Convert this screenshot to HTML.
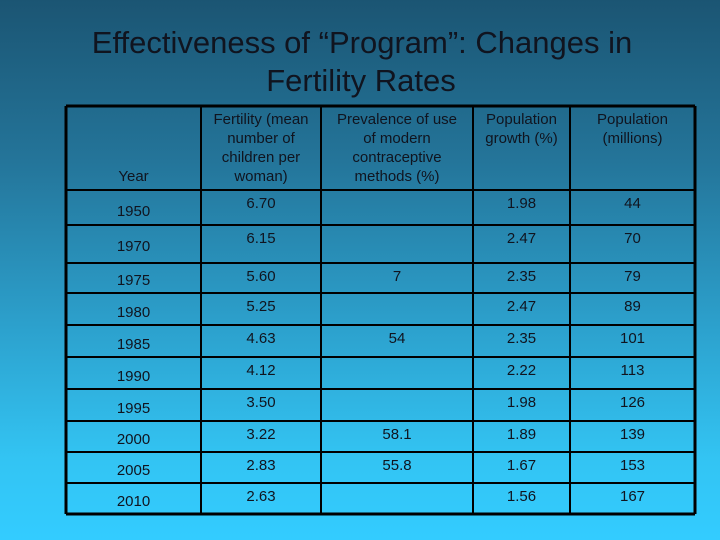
<!DOCTYPE html>
<html><head><meta charset="utf-8"><style>
html,body{margin:0;padding:0}
body{width:720px;height:540px;overflow:hidden;background:linear-gradient(180deg,#1b5573 0%,#24759a 30%,#2ca0cc 60%,#33c4f3 85%,#33ccff 100%);font-family:"Liberation Sans",sans-serif}
svg{position:absolute;left:0;top:0}
text{font-family:"Liberation Sans",sans-serif;fill:#10141f}
</style></head><body>
<svg width="720" height="540">
<text x="362" y="53" font-size="31" text-anchor="middle">Effectiveness of “Program”: Changes in</text>
<text x="361" y="91" font-size="31" text-anchor="middle">Fertility Rates</text>
<g id="grid"></g>
<g id="cells"></g>
</svg>
<script>
const years=["1950","1970","1975","1980","1985","1990","1995","2000","2005","2010"];
const fertility=["6.70","6.15","5.60","5.25","4.63","4.12","3.50","3.22","2.83","2.63"];
const prevalence=["","","7","","54","","","58.1","55.8",""];
const growth=["1.98","2.47","2.35","2.47","2.35","2.22","1.98","1.89","1.67","1.56"];
const population=["44","70","79","89","101","113","126","139","153","167"];
const ns="http://www.w3.org/2000/svg";
const colX=[66,201,321,473,570,695];
const rowY=[106,190,225,263,293,325,357,389,421,452,483,514];
const grid=document.getElementById('grid'),cells=document.getElementById('cells');
function line(x1,y1,x2,y2,w){const l=document.createElementNS(ns,'line');l.setAttribute('x1',x1);l.setAttribute('y1',y1);l.setAttribute('x2',x2);l.setAttribute('y2',y2);l.setAttribute('stroke','#000');l.setAttribute('stroke-width',w);


grid.appendChild(l);}
colX.forEach((x,i)=>line(x,rowY[0],x,rowY[rowY.length-1],(i==0||i==colX.length-1)?3:2));
rowY.forEach((y,i)=>line(colX[0],y,colX[colX.length-1],y,(i==0||i==rowY.length-1)?3:2));
function txt(s,x,y,name){const t=document.createElementNS(ns,'text');t.setAttribute('x',x);t.setAttribute('y',y);t.setAttribute('font-size','15');t.setAttribute('text-anchor','middle');t.textContent=s;


cells.appendChild(t);}
const cx=colX.slice(0,-1).map((x,i)=>(x+colX[i+1])/2);
txt("Year",cx[0],181,'header-year');
[["Fertility (mean","number of","children per","woman)"],["Prevalence of use","of modern","contraceptive","methods (%)"],["Population","growth (%)"],["Population","(millions)"]].forEach((h,c)=>h.forEach((s,k)=>txt(s,cx[c+1],124+k*19,'header-cell')));
years.forEach((yr,i)=>{
  const top=rowY[i+1],bot=rowY[i+2];
  const vb=top+18, yb=Math.min(bot-8,top+26);
  txt(yr,cx[0],yb,'year-cell');
  txt(fertility[i],cx[1],vb,'fertility-cell');
  if(prevalence[i])txt(prevalence[i],cx[2],vb,'prevalence-cell');
  txt(growth[i],cx[3],vb,'growth-cell');
  txt(population[i],cx[4],vb,'population-cell');
});
</script>
</body></html>
